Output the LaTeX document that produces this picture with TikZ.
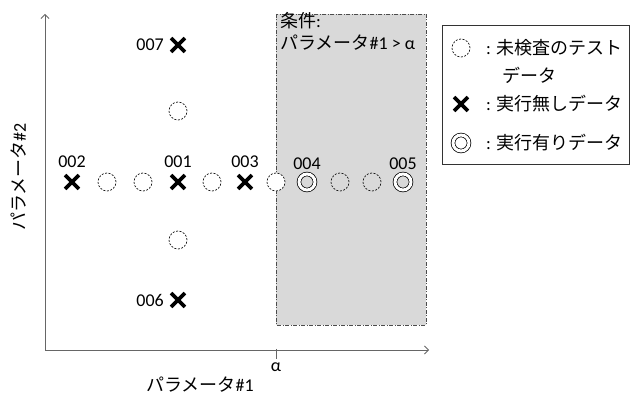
\documentclass[tikz,border=0pt]{standalone}
\usepackage{fontspec}
\setmainfont{Carlito}
\newfontfamily\jp{Noto Sans CJK JP}
\usetikzlibrary{arrows.meta}

\tikzset{
  axis/.style={draw=black!60, line width=0.8pt},
  untested/.style={circle, draw=black!90, dash pattern=on 2pt off 1.5pt, line width=0.75pt, minimum size=18pt, inner sep=0pt},
  executed/.style={circle, draw=black, double, double distance=3pt, line width=0.75pt, minimum size=16pt, inner sep=0pt},
  xm/.style={inner sep=0pt, minimum size=13.5pt},
  xline/.style={line width=3.6pt, black},
  idlabel/.style={inner sep=1pt},
  condbox/.style={fill=black!15, draw=black!70, line width=0.7pt, dash pattern=on 4pt off 1.5pt on 1pt off 1.5pt},
  legendbox/.style={draw=black!80, line width=0.8pt},
  legtext/.style={anchor=west, inner sep=0pt}
}
\newcommand\crossmk[2]{%
  \node[xm] (#1) at (#2) {};
  \draw[xline] (#1.north west) -- (#1.south east) (#1.north east) -- (#1.south west);}

\begin{document}
\begin{tikzpicture}[x=1pt, y=-1pt, font=\fontsize{18}{22}\selectfont]
\useasboundingbox (0,0) rectangle (630,398);

% condition region
\draw[condbox] (276,14) rectangle (426,325);
\node[anchor=north west, align=left, inner sep=0pt, font=\fontsize{18}{22}\selectfont] (cond) at (280,12)
  {{\jp 条件}:\\{\jp パラメータ}\#1 > α};

% axes
\coordinate (O) at (45,350);
\coordinate (ytop) at (45,14);
\coordinate (xend) at (429,350);
\coordinate (alpha) at (276,350);
\draw[axis, -{Straight Barb[length=4pt, width=8pt]}] (O) -- (xend);
\draw[axis, -{Straight Barb[length=4pt, width=8pt]}] (O) -- (ytop);
\draw[axis] (alpha) ++(0,-1) -- ++(0,10) coordinate (alphatick);
\node[below=3pt, inner sep=1pt] (alab) at (alphatick) {α};
\node (xlab) at (200,385) {{\jp パラメータ}\#1};
\node[rotate=90] (ylab) at (19,177) {{\jp パラメータ}\#2};

% horizontal row of data points
\crossmk{p002}{72,182}
\node[untested] (u1) at (107,182) {};
\node[untested] (u2) at (143,182) {};
\crossmk{p001}{178,182}
\node[untested] (u3) at (212,182) {};
\crossmk{p003}{245,182}
\node[untested, fill=white] (u4) at (276,182) {};
\node[executed] (p004) at (307,182) {};
\node[untested] (u5) at (340,182) {};
\node[untested] (u6) at (372,182) {};
\node[executed] (p005) at (403,182) {};

% vertical column of data points
\crossmk{p007}{178,45}
\node[untested] (u7) at (178,111) {};
\node[untested] (u8) at (178,240) {};
\crossmk{p006}{178,300}

% identifiers
\node[idlabel, above=6pt] at (p002.north) {002};
\node[idlabel, above=6pt] at (p001.north) {001};
\node[idlabel, above=6pt] at (p003.north) {003};
\node[idlabel, above=3pt] at (p004.north) {004};
\node[idlabel, above=3pt] at (p005.north) {005};
\node[idlabel, left=6pt] at (p007.west) {007};
\node[idlabel, left=6pt] at (p006.west) {006};

% legend
\draw[legendbox] (442,25) rectangle (629.4,164);
\node[untested] (lu) at (461,48) {};
\crossmk{lx}{461,104}
\node[executed] (le) at (461,143) {};
\node[legtext] (lt1) at (486,48) {: {\jp 未検査のテスト}};
\node[legtext] (lt1b) at (502,75) {\jp データ};
\node[legtext] (lt2) at (486,104) {: {\jp 実行無しデータ}};
\node[legtext] (lt3) at (486,143) {: {\jp 実行有りデータ}};
\end{tikzpicture}
\end{document}
